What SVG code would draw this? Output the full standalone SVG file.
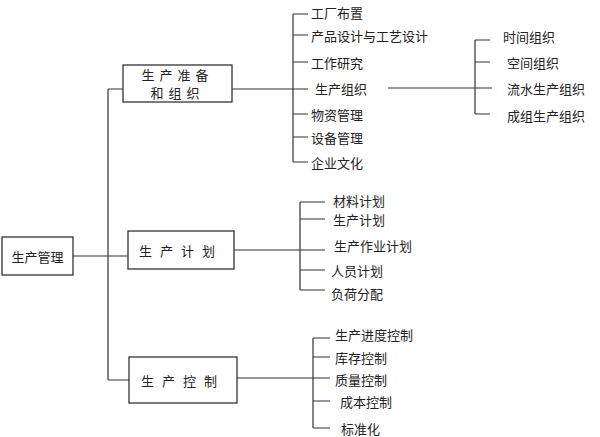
<svg xmlns="http://www.w3.org/2000/svg" width="600" height="437" viewBox="0 0 600 437">
<style>
text{font-family:"Noto Sans CJK SC","Noto Sans",sans-serif;font-size:13px;fill:#222;dominant-baseline:central}
.b{fill:#fff;stroke:#333;stroke-width:1.3}
.c{stroke:#333;stroke-width:1.2;fill:none}
</style>
<rect width="600" height="437" fill="#fff"/>
<g id="connectors" class="c">
<path d="M73 256H128M108 89V380M108 89H123M108 380H129"/>
<path d="M232 89H308M388 88H475M293 14V162M293 14H308M293 35H308M293 62H308M293 114H308M293 137H308M293 162H308"/>
<path d="M475 40V114M475 40H490M475 62H490M475 88H492M475 114H490"/>
<path d="M234 250H325M300 202V290M300 202H325M300 219H325M300 270H325M300 290H325"/>
<path d="M237 378H330M313 338V428M313 338H330M313 357H330M313 401H330M313 428H330"/>
</g>
<g id="root"><rect class="b" x="2" y="237" width="71" height="38"/><text x="37.5" y="256" text-anchor="middle">生产管理</text></g>
<g id="n1"><rect class="b" x="123" y="65" width="109" height="37"/><text x="177.5" y="74" text-anchor="middle" letter-spacing="5" font-size="12">生产准备</text><text x="177.5" y="92.5" text-anchor="middle" letter-spacing="5" font-size="12">和组织</text></g>
<g id="n2"><rect class="b" x="128" y="231" width="106" height="38"/><text x="181" y="250" text-anchor="middle" letter-spacing="8">生产计划</text></g>
<g id="n3"><rect class="b" x="129" y="357" width="108" height="46"/><text x="183" y="380" text-anchor="middle" letter-spacing="8">生产控制</text></g>
<g id="items1">
<text x="311" y="12">工厂布置</text><text x="311" y="35">产品设计与工艺设计</text><text x="311" y="62">工作研究</text><text x="315" y="88">生产组织</text><text x="311" y="114">物资管理</text><text x="311" y="137">设备管理</text><text x="311" y="162">企业文化</text>
</g>
<g id="items1b">
<text x="503" y="36">时间组织</text><text x="507" y="62">空间组织</text><text x="507" y="88">流水生产组织</text><text x="507" y="115">成组生产组织</text>
</g>
<g id="items2">
<text x="333" y="200">材料计划</text><text x="333" y="219">生产计划</text><text x="334" y="245">生产作业计划</text><text x="331" y="270">人员计划</text><text x="331" y="293">负荷分配</text>
</g>
<g id="items3">
<text x="335" y="334">生产进度控制</text><text x="335" y="357">库存控制</text><text x="335" y="379">质量控制</text><text x="340" y="401">成本控制</text><text x="341" y="428">标准化</text>
</g>
</svg>
